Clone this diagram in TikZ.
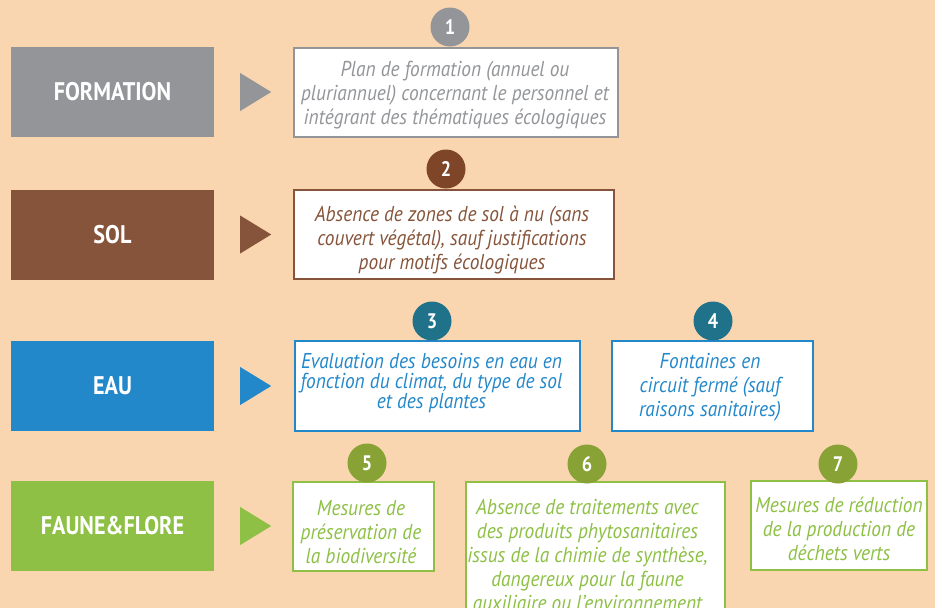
\documentclass[tikz,border=0pt]{standalone}
\usepackage{fontspec}
\setmainfont{PT Sans}
\newfontfamily\headfont[FakeStretch=0.87]{PT Sans}
\newfontfamily\bodyfont[FakeStretch=0.9]{PT Sans}
\usetikzlibrary{calc}
\definecolor{bgpeach}{HTML}{F9D6B0}
\definecolor{cgray}{HTML}{939598}
\definecolor{cbrown}{HTML}{86543A}
\definecolor{cbrownd}{HTML}{7E4528}
\definecolor{cblue}{HTML}{2388CA}
\definecolor{cteal}{HTML}{20728A}
\definecolor{cgreen}{HTML}{8DC044}
\definecolor{colive}{HTML}{88A236}
\tikzset{
  headbox/.style={rectangle, fill=#1, text=white, minimum width=203pt, minimum height=90pt,
    inner sep=0pt, font=\headfont\bfseries\fontsize{25.5}{28}\selectfont},
  textbox/.style={rectangle, draw=#1, line width=2.4pt, fill=white, inner sep=0pt},
  bodytext/.style={text=#1, inner sep=0pt, align=center,
    font=\bodyfont\itshape\fontsize{21.5}{24}\selectfont},
  numdot/.style={circle, fill=#1, text=white, minimum size=39pt, inner sep=0pt,
    font=\headfont\bfseries\fontsize{21}{24}\selectfont},
}
\begin{document}
\begin{tikzpicture}[x=1pt,y=-1pt]
\fill[bgpeach] (0,0) rectangle (935,608);
\useasboundingbox (0,0) rectangle (935,608);
\clip (0,0) rectangle (935,608);

% headings
\node[headbox=cgray]  (h1) at (112.5,92)  {FORMATION};
\node[headbox=cbrown] (h2) at (112.5,234.5) {SOL};
\node[headbox=cblue]  (h3) at (112.5,386) {EAU};
\node[headbox=cgreen] (h4) at (112.5,526) {FAUNE\&FLORE};

% triangles
\foreach \h/\c in {h1/cgray,h2/cbrown,h3/cblue,h4/cgreen}{
  \fill[\c] ($(\h.east)+(26,-19)$) -- ($(\h.east)+(57,0)$) -- ($(\h.east)+(26,19)$) -- cycle;
}

% text boxes
\node[textbox=cgray,  minimum width=324pt, minimum height=89pt]  (b1) at (456,92.5) {};
\node[textbox=cbrown, minimum width=320pt, minimum height=89pt]  (b2) at (454,234.5) {};
\node[textbox=cblue,  minimum width=285pt, minimum height=90pt]  (b3) at (437.5,386) {};
\node[textbox=cblue,  minimum width=201pt, minimum height=90pt]  (b4) at (712.5,386) {};
\node[textbox=cgreen, minimum width=141pt, minimum height=89pt]  (b5) at (363.5,526.5) {};
\node[textbox=cgreen, minimum width=259pt, minimum height=141pt] (b6) at (595.5,552.5) {};
\node[textbox=cgreen, minimum width=176pt, minimum height=89pt]  (b7) at (839,525.5) {};

% texts
\node[bodytext=cgray] (t1) at (455,95.5)
  {Plan de formation (annuel ou\\pluriannuel) concernant le personnel et\\intégrant des thématiques écologiques};
\node[bodytext=cbrown] (t2) at (452,240.5)
  {Absence de zones de sol à nu (sans\\couvert végétal), sauf justifications\\pour motifs écologiques};
\node[bodytext=cblue, font=\bodyfont\itshape\fontsize{21.5}{19.5}\selectfont] (t3) at (431.5,383.5)
  {Evaluation des besoins en eau en\\fonction du climat, du type de sol\\et des plantes};
\node[bodytext=cblue] (t4) at (710,387.5)
  {Fontaines en\\circuit fermé (sauf\\raisons sanitaires)};
\node[bodytext=cgreen] (t5) at (361,532.5)
  {Mesures de\\préservation de\\la biodiversité};
\node[bodytext=cgreen] (t6) at (587.5,554.5)
  {Absence de traitements avec\\des produits phytosanitaires\\issus de la chimie de synthèse,\\dangereux pour la faune\\auxiliaire ou l’environnement};
\node[bodytext=cgreen] (t7) at (839,528.5)
  {Mesures de réduction\\de la production de\\déchets verts};

% number dots
\node[numdot=cgray]   (n1) at (450,27)  {1};
\node[numdot=cbrownd] (n2) at (446,169) {2};
\node[numdot=cteal]   (n3) at (432,321) {3};
\node[numdot=cteal]   (n4) at (713,321) {4};
\node[numdot=colive]  (n5) at (367,463) {5};
\node[numdot=colive]  (n6) at (587,464) {6};
\node[numdot=colive]  (n7) at (838,464) {7};
\end{tikzpicture}
\end{document}
